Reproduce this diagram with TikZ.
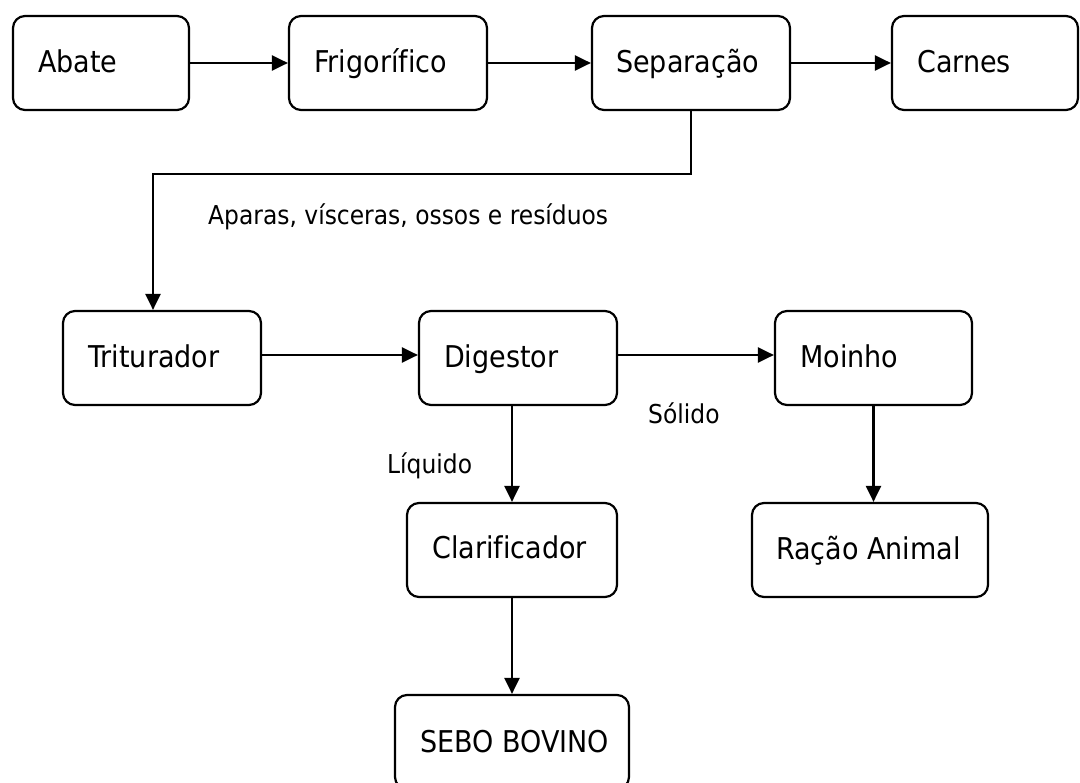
\documentclass[tikz,border=0pt]{standalone}
\usepackage{fontspec}
\setmainfont{DejaVu Sans}[FakeStretch=0.9,Ligatures=NoCommon]
\usetikzlibrary{arrows.meta,positioning}
\tikzset{
  box/.style={draw=black, line width=2.2pt, rounded corners=12pt, inner sep=0pt},
  txt/.style={inner sep=0pt, anchor=base west, font=\fontsize{30}{34}\selectfont},
  lbl/.style={inner sep=0pt, anchor=base west, font=\fontsize{26}{31}\selectfont},
  conn/.style={line width=2.2pt, -{Triangle[length=16pt,width=15pt]}}
}
\newcommand{\boxat}[5]{\node[box, minimum width=#4-#2, minimum height=#5-#3] (#1) at ({(#2+#4)/2},{(#3+#5)/2}) {};}
\begin{document}
\begin{tikzpicture}[x=1pt,y=-1pt]
\useasboundingbox (0,0) rectangle (1080,783);
\fill[white] (0,0) rectangle (1080,783);
\begin{scope}
\clip (0,0) rectangle (1080,783);
% boxes
\boxat{abate}{13}{16}{189}{110}
\boxat{frig}{289}{16}{487}{110}
\boxat{sep}{592}{16}{790}{110}
\boxat{carnes}{892}{16}{1078}{110}
\boxat{trit}{63}{311}{261}{405}
\boxat{dig}{419}{311}{617}{405}
\boxat{moinho}{775}{311}{972}{405}
\boxat{clar}{407}{503}{617}{597}
\boxat{racao}{752}{503}{988}{597}
\boxat{sebo}{395}{695}{629}{789}
% texts
\node[txt] (tabate) at (38,73) {Abate};
\node[txt] (tfrig) at (314,73) {Frigorífico};
\node[txt] (tsep) at (616,73) {Separação};
\node[txt] (tcarnes) at (917,73) {Carnes};
\node[txt] (ttrit) at (88,368) {Triturador};
\node[txt] (tdig) at (444,368) {Digestor};
\node[txt] (tmoinho) at (800,368) {Moinho};
\node[txt] (tclar) at (432,559) {Clarificador};
\node[txt] (tracao) at (776,560) {Ração Animal};
\node[txt] (tsebo) at (420,752) {SEBO BOVINO};
% labels
\node[lbl] (laparas) at (208,225) {Aparas, vísceras, ossos e resíduos};
\node[lbl] (lsolido) at (648,424) {Sólido};
\node[lbl] (lliquido) at (387,474) {Líquido};
% connectors
\draw[conn] (abate.east) -- (frig.west);
\draw[conn] (frig.east) -- (sep.west);
\draw[conn] (sep.east) -- (carnes.west);
\coordinate (bend) at (153,174);
\draw[conn] (sep.south) |- (bend) -- (bend |- trit.north);
\draw[conn] ([yshift=3pt]trit.east) -- ([yshift=3pt]dig.west);
\draw[conn] ([yshift=3pt]dig.east) -- ([yshift=3pt]moinho.west);
\draw[conn] (clar.north |- dig.south) -- (clar.north);
\draw[conn] (moinho.south) -- (moinho.south |- racao.north);
\draw[conn] (clar.south) -- (sebo.north);
\end{scope}
\end{tikzpicture}
\end{document}
